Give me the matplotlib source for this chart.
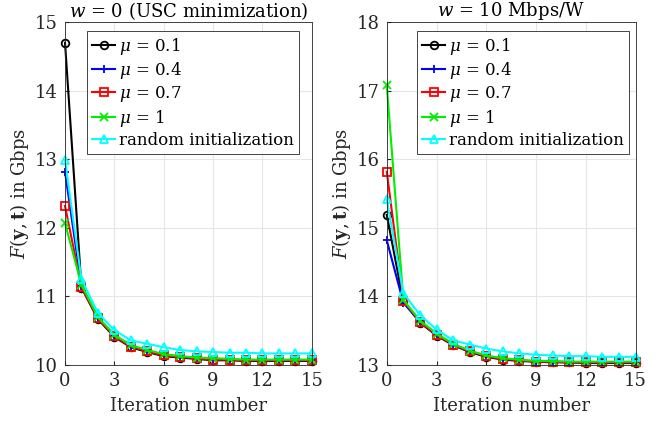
import matplotlib
matplotlib.use("Agg")
import matplotlib.pyplot as plt

iterations = list(range(16))

left_mu01 = [14.70, 11.13, 10.67, 10.41, 10.26, 10.19, 10.13, 10.11, 10.09, 10.07, 10.07, 10.06, 10.06, 10.06, 10.06, 10.06]
left_mu04 = [12.82, 11.15, 10.69, 10.43, 10.28, 10.21, 10.15, 10.12, 10.10, 10.09, 10.08, 10.07, 10.07, 10.07, 10.07, 10.07]
left_mu07 = [12.32, 11.14, 10.68, 10.42, 10.27, 10.20, 10.14, 10.12, 10.10, 10.08, 10.08, 10.07, 10.07, 10.07, 10.07, 10.07]
left_mu1 = [12.07, 11.17, 10.70, 10.44, 10.29, 10.22, 10.16, 10.13, 10.11, 10.10, 10.09, 10.08, 10.08, 10.08, 10.08, 10.08]
left_rand = [12.99, 11.25, 10.76, 10.51, 10.36, 10.31, 10.26, 10.22, 10.20, 10.19, 10.18, 10.18, 10.17, 10.17, 10.17, 10.17]

right_mu01 = [15.19, 13.93, 13.62, 13.43, 13.29, 13.19, 13.12, 13.08, 13.06, 13.05, 13.04, 13.04, 13.03, 13.03, 13.03, 13.03]
right_mu04 = [14.82, 13.91, 13.63, 13.44, 13.30, 13.20, 13.13, 13.09, 13.07, 13.05, 13.05, 13.04, 13.04, 13.04, 13.04, 13.04]
right_mu07 = [15.82, 13.94, 13.63, 13.44, 13.30, 13.20, 13.13, 13.09, 13.07, 13.05, 13.05, 13.04, 13.04, 13.04, 13.04, 13.04]
right_mu1 = [17.08, 13.95, 13.65, 13.46, 13.31, 13.21, 13.14, 13.10, 13.08, 13.06, 13.06, 13.05, 13.05, 13.05, 13.05, 13.05]
right_rand = [15.42, 14.05, 13.73, 13.52, 13.36, 13.30, 13.24, 13.20, 13.17, 13.15, 13.14, 13.13, 13.13, 13.12, 13.12, 13.12]

labels = [r"$\mu$ = 0.1", r"$\mu$ = 0.4", r"$\mu$ = 0.7", r"$\mu$ = 1", "random initialization"]
titles = [r"$w$ = 0 (USC minimization)", r"$w$ = 10 Mbps/W"]
xticks = [0, 3, 6, 9, 12, 15]
left_yticks = [10, 11, 12, 13, 14, 15]
right_yticks = [13, 14, 15, 16, 17, 18]

plt.rcParams['font.family'] = ['DejaVu Serif']
plt.rcParams['mathtext.fontset'] = 'dejavuserif'

styles = [
    dict(color='black', marker='o'),
    dict(color='blue', marker='+'),
    dict(color='red', marker='s'),
    dict(color='#00ee00', marker='x'),
    dict(color='cyan', marker='^'),
]

fig = plt.figure(figsize=(6.6, 4.26), dpi=100)
ax1 = fig.add_axes([0.0985, 0.143, 0.374, 0.805])
ax2 = fig.add_axes([0.586, 0.143, 0.377, 0.805])

panels = [
    (ax1, [left_mu01, left_mu04, left_mu07, left_mu1, left_rand], left_yticks, titles[0], 0.96),
    (ax2, [right_mu01, right_mu04, right_mu07, right_mu1, right_rand], right_yticks, titles[1], 0.985),
]

FS = 13
for ax, series, yt, title, lx in panels:
    for data, lab, st in zip(series, labels, styles):
        ax.plot(iterations, data, color=st['color'], marker=st['marker'],
                markerfacecolor='none', markersize=5.5, linewidth=1.5,
                markeredgewidth=1.3, label=lab, clip_on=False)
    ax.set_xlim(0, 15)
    ax.set_ylim(yt[0], yt[-1])
    ax.set_xticks(xticks)
    ax.set_yticks(yt)
    ax.grid(True, color='#e6e6e6', linewidth=0.8)
    ax.set_axisbelow(True)
    ax.tick_params(direction='in', labelsize=FS, colors='#262626', length=3, pad=5)
    for s in ax.spines.values():
        s.set_color('#262626')
        s.set_linewidth(0.6)
    ax.set_xlabel("Iteration number", fontsize=FS, color='#262626', labelpad=5)
    ax.set_ylabel(r"$F(\mathbf{y},\mathbf{t})$ in Gbps", fontsize=FS, color='#262626', labelpad=3)
    ax.set_title(title, fontsize=FS, pad=3)
    leg = ax.legend(loc='upper right', bbox_to_anchor=(lx, 0.985), fontsize=12,
                    handlelength=1.4, handletextpad=0.2, borderpad=0.3,
                    labelspacing=0.2, fancybox=False, framealpha=1,
                    edgecolor='#262626', borderaxespad=0.2)
    leg.get_frame().set_linewidth(0.6)

fig.savefig("out.png", dpi=100)
